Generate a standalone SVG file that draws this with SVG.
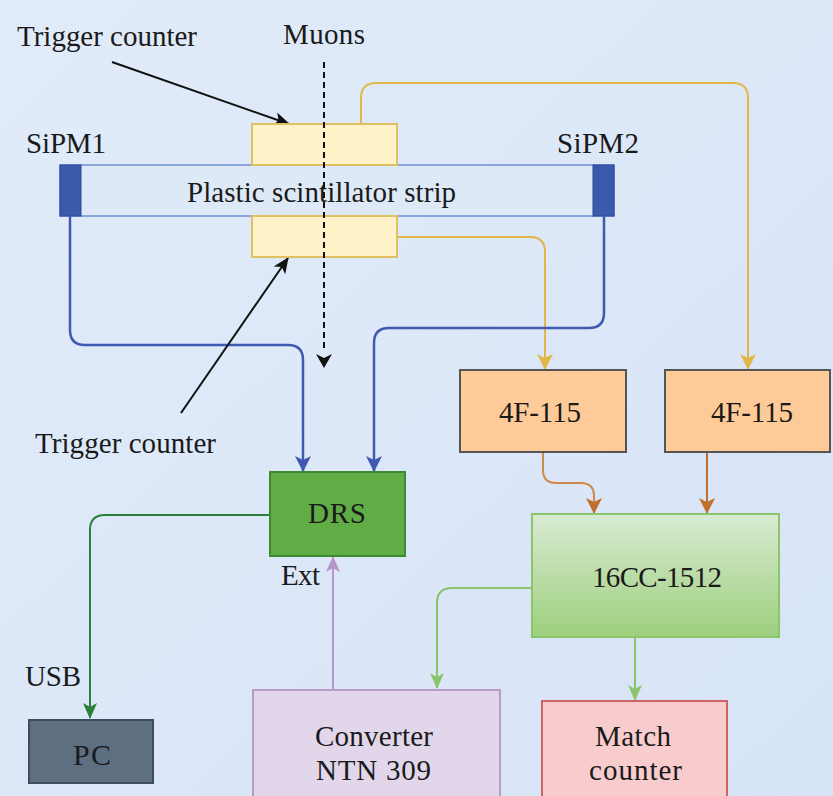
<svg xmlns="http://www.w3.org/2000/svg" width="833" height="796" viewBox="0 0 833 796">
<defs>
<linearGradient id="bg" x1="0" y1="0" x2="1" y2="1">
<stop offset="0" stop-color="#e1ebf9"/>
<stop offset="1" stop-color="#d7e4f7"/>
</linearGradient>
<linearGradient id="g16" x1="0" y1="0" x2="0" y2="1">
<stop offset="0" stop-color="#d9ebd3"/>
<stop offset="1" stop-color="#9dcf7d"/>
</linearGradient>
<marker id="aBlk" markerUnits="userSpaceOnUse" markerWidth="16" markerHeight="14" refX="15" refY="7" orient="auto"><path d="M0,0 L16,7 L0,14 L4,7 z" fill="#111"/></marker>
<marker id="aBlu" markerUnits="userSpaceOnUse" markerWidth="16" markerHeight="16" refX="15" refY="8" orient="auto"><path d="M0,0 L16,8 L0,16 L4,8 z" fill="#3f58b0"/></marker>
<marker id="aYel" markerUnits="userSpaceOnUse" markerWidth="16" markerHeight="16" refX="15" refY="8" orient="auto"><path d="M0,0 L16,8 L0,16 L4,8 z" fill="#e0b848"/></marker>
<marker id="aOr" markerUnits="userSpaceOnUse" markerWidth="16" markerHeight="16" refX="15" refY="8" orient="auto"><path d="M0,0 L16,8 L0,16 L4,8 z" fill="#c0702e"/></marker>
<marker id="aDg" markerUnits="userSpaceOnUse" markerWidth="16" markerHeight="14" refX="15" refY="7" orient="auto"><path d="M0,0 L16,7 L0,14 L4,7 z" fill="#2a8038"/></marker>
<marker id="aLg" markerUnits="userSpaceOnUse" markerWidth="16" markerHeight="14" refX="15" refY="7" orient="auto"><path d="M0,0 L16,7 L0,14 L4,7 z" fill="#8cc46c"/></marker>
<marker id="aPu" markerUnits="userSpaceOnUse" markerWidth="16" markerHeight="14" refX="15" refY="7" orient="auto"><path d="M0,0 L16,7 L0,14 L4,7 z" fill="#b896cc"/></marker>
</defs>
<style>
text{font-family:"Liberation Serif","Times New Roman",serif;fill:#1a1a1a;font-size:29px;}
.c{fill:none;}
</style>
<rect x="0" y="0" width="833" height="796" fill="url(#bg)"/>

<g id="connectors">
<path class="c" d="M361,124 V98 Q361,83 376,83 H733 Q748,83 748,98 V369" stroke="#e0b848" stroke-width="2" marker-end="url(#aYel)"/>
<path class="c" d="M397,237 H530 Q545,237 545,252 V369" stroke="#e0b848" stroke-width="2" marker-end="url(#aYel)"/>
<path class="c" d="M70,216 V330 Q70,345 85,345 H288 Q303,345 303,360 V471" stroke="#3f58b0" stroke-width="2.5" marker-end="url(#aBlu)"/>
<path class="c" d="M604,216 V313 Q604,328 589,328 H389 Q374,328 374,343 V471" stroke="#3f58b0" stroke-width="2.5" marker-end="url(#aBlu)"/>
<path class="c" d="M543,452 V470 Q543,483 556,483 H581 Q594,483 594,496 V513" stroke="#d08a48" stroke-width="2" marker-end="url(#aOr)"/>
<path class="c" d="M707,452 V513" stroke="#c0702e" stroke-width="2" marker-end="url(#aOr)"/>
<path class="c" d="M270,515 H105 Q90,515 90,530 V718" stroke="#2a8038" stroke-width="2" marker-end="url(#aDg)"/>
<path class="c" d="M532,588 H452 Q437,588 437,603 V688" stroke="#8cc46c" stroke-width="2" marker-end="url(#aLg)"/>
<path class="c" d="M635,637 V700" stroke="#8cc46c" stroke-width="2" marker-end="url(#aLg)"/>
<path class="c" d="M333,689 V557" stroke="#b896cc" stroke-width="2" marker-end="url(#aPu)"/>
<path class="c" d="M112,62 L289,124" stroke="#111" stroke-width="2" marker-end="url(#aBlk)"/>
<path class="c" d="M181,413 L288,258" stroke="#111" stroke-width="2" marker-end="url(#aBlk)"/>
</g>

<g id="strip">
<rect x="60" y="165" width="554" height="51" fill="#dde9f6" stroke="#6f8fcf" stroke-width="1.5"/>
<text x="187" y="202" textLength="269">Plastic scintillator strip</text>
</g>
<g id="sipm1">
<rect x="60" y="165" width="21" height="51" fill="#3a5aac" stroke="#2c4898" stroke-width="1"/>
<text x="26" y="153" textLength="80">SiPM1</text>
</g>
<g id="sipm2">
<rect x="593" y="165" width="21" height="51" fill="#3a5aac" stroke="#2c4898" stroke-width="1"/>
<text x="557" y="153" textLength="82">SiPM2</text>
</g>
<g id="trigger-top">
<rect x="252" y="124" width="145" height="41" fill="#fff2c9" stroke="#e0c060" stroke-width="2"/>
<text x="17" y="46" textLength="180">Trigger counter</text>
</g>
<g id="trigger-bottom">
<rect x="252" y="216" width="145" height="41" fill="#fff2c9" stroke="#e0c060" stroke-width="2"/>
<text x="35" y="453" textLength="181">Trigger counter</text>
</g>
<g id="muons">
<text x="283" y="44" textLength="82">Muons</text>
<path d="M324,62 V352" stroke="#111" stroke-width="2" stroke-dasharray="6,4" fill="none"/>
<path d="M316,354 L324,368 L332,354 L324,358 z" fill="#111"/>
</g>
<g id="drs">
<rect x="270" y="472" width="135" height="84" fill="#60ad46" stroke="#3d8a33" stroke-width="2"/>
<text x="308" y="523" textLength="58">DRS</text>
<text x="281" y="585" textLength="39">Ext</text>
</g>
<g id="f115a">
<rect x="460" y="370" width="166" height="82" fill="#fecb98" stroke="#555" stroke-width="2"/>
<text x="499" y="422" textLength="82">4F-115</text>
</g>
<g id="f115b">
<rect x="665" y="370" width="165" height="82" fill="#fecb98" stroke="#555" stroke-width="2"/>
<text x="711" y="422" textLength="82">4F-115</text>
</g>
<g id="cc1512">
<rect x="532" y="514" width="247" height="123" fill="url(#g16)" stroke="#8cc66a" stroke-width="2"/>
<text x="592" y="587" textLength="130">16CC-1512</text>
</g>
<g id="pc">
<rect x="29" y="720" width="124" height="63" fill="#5f6f82" stroke="#3e4c5c" stroke-width="2"/>
<text x="73" y="765" textLength="38" style="font-size:30px">PC</text>
<text x="25" y="686" textLength="56">USB</text>
</g>
<g id="converter">
<rect x="253" y="690" width="247" height="120" fill="#e2d6ea" stroke="#b89cc8" stroke-width="2"/>
<text x="315" y="746" textLength="118">Converter</text>
<text x="316" y="780" textLength="115">NTN 309</text>
</g>
<g id="match">
<rect x="542" y="701" width="185" height="110" fill="#f8cccc" stroke="#d06464" stroke-width="2"/>
<text x="595" y="746" textLength="76">Match</text>
<text x="589" y="780" textLength="93">counter</text>
</g>
</svg>
